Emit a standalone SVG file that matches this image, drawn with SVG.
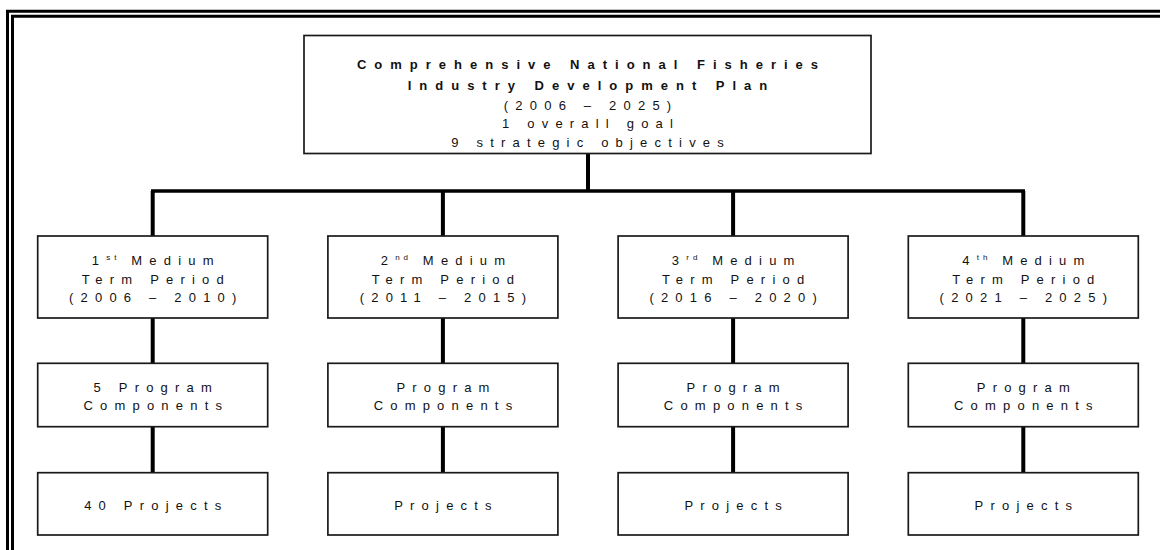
<svg xmlns="http://www.w3.org/2000/svg" width="1160" height="550" viewBox="0 0 1160 550">
  <style>
    .frame { fill: none; stroke: #000; stroke-width: 3; }
    .box { fill: #fff; stroke: #1a1a1a; stroke-width: 1.7; }
    .wire { fill: none; stroke: #000; stroke-width: 4; stroke-linecap: butt; }
    .bus { fill: none; stroke: #000; stroke-width: 3.4; stroke-linecap: square; }
    text { font-family: "Liberation Sans", Arial, sans-serif; font-size: 13px; fill: #111; text-anchor: middle; letter-spacing: 7.2px; }
    .b { font-weight: bold; letter-spacing: 8px; }
    .sup { font-size: 8px; letter-spacing: 4px; }
  </style>

  <rect width="1160" height="550" fill="#fff"/>

  <!-- double page frame -->
  <path class="frame" d="M7.5,550 V11.3 H1160"/>
  <path class="frame" d="M12.5,550 V16.2 H1160"/>

  <!-- connectors -->
  <g id="connectors">
    <path class="wire" d="M588,154 V191"/>
    <path class="bus" d="M152.7,191 H1023.3"/>
    <path class="wire" d="M152.7,191 V236 M442.9,191 V236 M733.1,191 V236 M1023.3,191 V236"/>
    <path class="wire" d="M152.7,318 V363 M442.9,318 V363 M733.1,318 V363 M1023.3,318 V363"/>
    <path class="wire" d="M152.7,427 V473 M442.9,427 V473 M733.1,427 V473 M1023.3,427 V473"/>
  </g>

  <!-- overall plan -->
  <g id="plan">
    <rect class="box" x="304" y="35.5" width="567" height="118"/>
    <text class="b" x="591.5" y="69">Comprehensive National Fisheries</text>
    <text class="b" x="591.5" y="90">Industry Development Plan</text>
    <text x="591.1" y="109.5">(2006 – 2025)</text>
    <text x="591.1" y="128">1 overall goal</text>
    <text x="591.1" y="146.5">9 strategic objectives</text>
  </g>

  <!-- medium term periods -->
  <g id="period1">
    <rect class="box" x="37.7" y="236" width="230" height="82"/>
    <text x="156.3" y="265.3">1<tspan class="sup" dy="-5">st</tspan><tspan dy="5"> Medium</tspan></text>
    <text x="156.3" y="283.5">Term Period</text>
    <text x="156.3" y="301.5">(2006 – 2010)</text>
  </g>
  <g id="period2">
    <rect class="box" x="327.9" y="236" width="230" height="82"/>
    <text x="446.5" y="265.3">2<tspan class="sup" dy="-5">nd</tspan><tspan dy="5"> Medium</tspan></text>
    <text x="446.5" y="283.5">Term Period</text>
    <text x="446.5" y="301.5">(2011 – 2015)</text>
  </g>
  <g id="period3">
    <rect class="box" x="618.1" y="236" width="230" height="82"/>
    <text x="736.7" y="265.3">3<tspan class="sup" dy="-5">rd</tspan><tspan dy="5"> Medium</tspan></text>
    <text x="736.7" y="283.5">Term Period</text>
    <text x="736.7" y="301.5">(2016 – 2020)</text>
  </g>
  <g id="period4">
    <rect class="box" x="908.3" y="236" width="230" height="82"/>
    <text x="1026.9" y="265.3">4<tspan class="sup" dy="-5">th</tspan><tspan dy="5"> Medium</tspan></text>
    <text x="1026.9" y="283.5">Term Period</text>
    <text x="1026.9" y="301.5">(2021 – 2025)</text>
  </g>

  <!-- program components -->
  <g id="components1">
    <rect class="box" x="37.7" y="363.3" width="230" height="63.4"/>
    <text x="156.3" y="391.7">5 Program</text>
    <text x="156.3" y="410">Components</text>
  </g>
  <g id="components2">
    <rect class="box" x="327.9" y="363.3" width="230" height="63.4"/>
    <text x="446.5" y="391.7">Program</text>
    <text x="446.5" y="410">Components</text>
  </g>
  <g id="components3">
    <rect class="box" x="618.1" y="363.3" width="230" height="63.4"/>
    <text x="736.7" y="391.7">Program</text>
    <text x="736.7" y="410">Components</text>
  </g>
  <g id="components4">
    <rect class="box" x="908.3" y="363.3" width="230" height="63.4"/>
    <text x="1026.9" y="391.7">Program</text>
    <text x="1026.9" y="410">Components</text>
  </g>

  <!-- projects -->
  <g id="projects1">
    <rect class="box" x="37.7" y="472.7" width="230" height="62.3"/>
    <text x="156.3" y="510">40 Projects</text>
  </g>
  <g id="projects2">
    <rect class="box" x="327.9" y="472.7" width="230" height="62.3"/>
    <text x="446.5" y="510">Projects</text>
  </g>
  <g id="projects3">
    <rect class="box" x="618.1" y="472.7" width="230" height="62.3"/>
    <text x="736.7" y="510">Projects</text>
  </g>
  <g id="projects4">
    <rect class="box" x="908.3" y="472.7" width="230" height="62.3"/>
    <text x="1026.9" y="510">Projects</text>
  </g>
</svg>
